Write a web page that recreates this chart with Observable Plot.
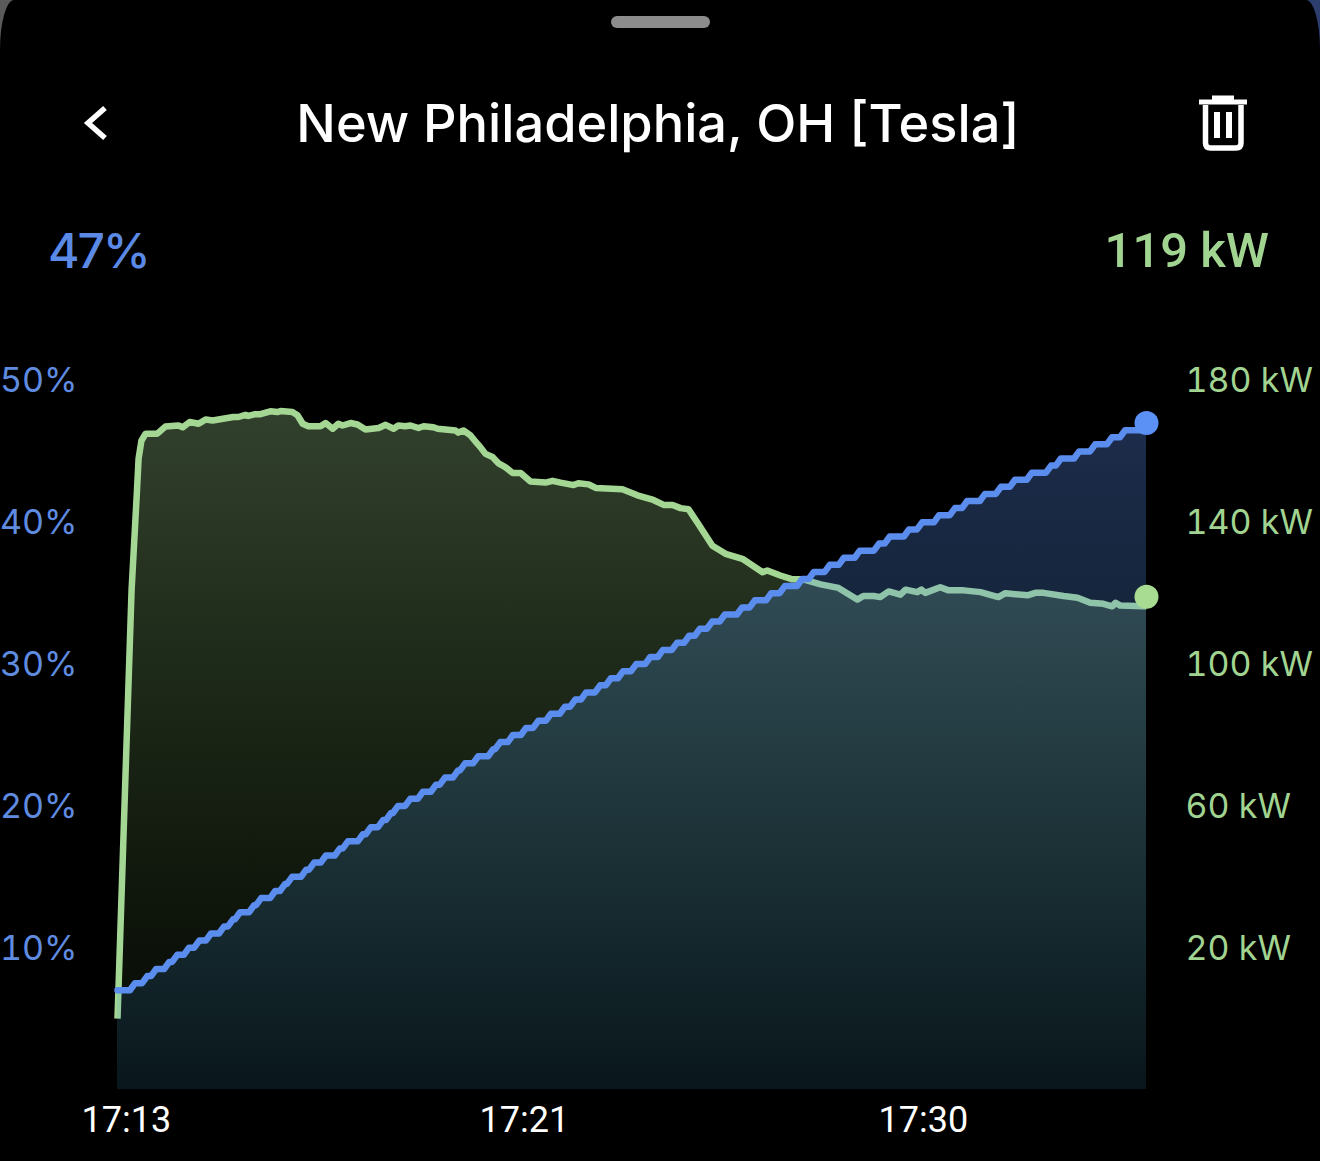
<!DOCTYPE html>
<html>
<head>
<meta charset="utf-8">
<script src="https://cdn.jsdelivr.net/npm/d3@7"></script>
<script src="https://cdn.jsdelivr.net/npm/@observablehq/plot@0.6"></script>
<style>
html,body{margin:0;padding:0;width:1320px;height:1161px;overflow:hidden;background:linear-gradient(to right,#5a5a5a 0 50%,#2c3d6e 50% 100%);font-family:Inter,sans-serif}
#header{position:relative;width:1320px;height:340px;background:#000;border-radius:14px 14px 0 0/50px 50px 0 0}
#pill{position:absolute;left:611px;top:16px;width:99px;height:12px;border-radius:6px;background:#8c8c8c}
#title{position:absolute;left:0;width:1316px;top:92px;text-align:center;color:#fff;font-size:52.3px;font-weight:500;line-height:62px;white-space:nowrap}
.big{position:absolute;top:222px;font-size:48px;line-height:58px;font-weight:500;white-space:nowrap}
#soc{left:48px;color:#5b8ae6;letter-spacing:-2px}
#pow{right:51px;color:#a2d491;font-family:Roboto,sans-serif;font-size:49px;top:222px}
#icons{position:absolute;left:0;top:0}
#chart{width:1320px;height:821px;background:#000}
svg{display:block}
</style>
</head>
<body>
<div id="header">
  <div id="pill"></div>
  <svg id="icons" width="1320" height="200" fill="none" stroke="#fff">
    <polyline points="105,108 88,123 105,138" stroke-width="5.5"/>
    <path d="M1199,102H1247M1212,98H1234" stroke-width="5"/>
    <path d="M1205.5,105V143Q1205.5,148 1210.5,148H1236Q1241,148 1241,143V105" stroke-width="5.5"/>
    <path d="M1217,112V138M1229,112V138" stroke-width="6"/>
  </svg>
  <div id="title">New Philadelphia, OH [Tesla]</div>
  <div id="soc" class="big">47%</div>
  <div id="pow" class="big">119 kW</div>
</div>
<div id="chart"></div>
<script>
// Minutes since the start of the session at which the state of charge ticks up
const socMinutes = [0.32,0.58,0.77,1.05,1.22,1.47,1.69,1.94,2.22,2.41,2.56,2.86,3.01,3.31,3.52,3.67,3.97,4.14,4.39,4.69,4.86,5.18,5.35,5.61,5.78,
  5.93,6.19,6.46,6.74,6.93,7.21,7.36,7.64,7.96,8.11,8.38,8.66,8.92,9.19,9.49,9.71,9.94,10.24,10.47,10.73,11.01,11.31,11.58,11.88,
  12.14,12.37,12.63,12.90,13.27,13.54,13.89,14.18,14.55,14.80,15.14,15.44,15.78,16.19,16.42,16.83,17.11,17.47,17.81,18.07,18.45,18.79,19.09,19.45,19.86,20.07,20.46,20.80,21.16,21.44];
const socPercent = [7.5,8,8.5,9,9.5,10,10.5,11,11.5,12,12.5,13,13.5,14,14.5,15,15.5,16,16.5,17,17.5,18,18.5,19,19.5,
  20,20.5,21,21.5,22,22.5,23,23.5,24,24.5,25,25.5,26,26.5,27,27.5,28,28.5,29,29.5,30,30.5,31,31.5,
  32,32.5,33,33.5,34,34.5,35,35.5,36,36.5,37,37.5,38,38.5,39,39.5,40,40.5,41,41.5,42,42.5,43,43.5,44,44.5,45,45.5,46,46.5];
const socStart = 7;
// Charging power samples
const powerMinutes = [0,0.30,0.41,0.45,0.51,0.60,0.85,1.02,1.30,1.39,1.54,1.73,1.88,2.03,2.47,2.58,2.73,2.79,2.94,3.05,3.26,3.41,3.48,3.73,3.84,3.95,4.07,4.33,4.44,4.59,4.71,4.80,4.97,5.12,5.29,5.57,5.72,5.89,5.99,6.14,6.25,6.42,6.53,6.74,6.83,7.21,7.27,7.38,7.53,7.68,7.74,7.85,8.00,8.13,8.28,8.43,8.60,8.81,9.13,9.28,9.45,9.73,9.83,10.05,10.20,10.77,11.09,11.43,11.65,11.84,12.01,12.18,12.39,12.69,12.97,13.33,13.76,13.86,14.14,14.40,14.63,15.00,15.38,15.78,15.91,16.13,16.27,16.45,16.70,16.81,17.06,17.15,17.23,17.55,17.73,18.05,18.41,18.79,18.94,19.41,19.58,19.75,20.18,20.48,20.75,21.03,21.22,21.29,21.39,21.88,21.95];
const powerKw = [0,120.8,147.6,158,163,165,165,167,167.3,166.8,168.3,167.8,169,168.7,169.7,169.7,170.3,170,170.5,170.5,171.3,171.1,171.4,171.1,170.2,167.8,167.1,167.1,168,166.4,167.8,167.3,168,167.6,166.2,166.6,167.5,166.4,167.3,167.1,167.3,166.6,167.1,166.8,166.4,165.9,165.3,165.9,164.5,162.1,161.2,159.3,158.4,156.6,155.5,153.9,153.9,151.5,151.2,151.7,151.2,150.5,151,150.7,149.7,149.3,147.6,146.3,144.9,144.9,144,143.7,139.5,133.4,131.1,129.7,125.9,126.4,125,123.9,123.9,122.5,121.5,118.2,119.2,119.2,118.9,120.5,119.6,121,120.3,121,120.1,121.7,120.8,120.8,120.3,118.9,120,119.4,120.1,120.1,119.2,118.7,117.3,117,116.3,117.3,116.5,116.3,116.3];
// Tick labels and latest readings
const timeTicks = [0.19,8.68,17.19];
const timeLabels = ["17:13","17:21","17:30"];
const percentTicks = [10,20,30,40,50];
const powerTicks = [20,60,100,140,180];
const lastMinute = 21.95, lastSoc = 47, lastKw = 119;

const BLUE = "#5b8def", GREEN = "#a5d794";
const kwToAxis = k => k / 4 + 5;            // right axis: 20 kW sits on 10 %, 180 kW on 50 %
const riser = 0.055;
const soc = [{t: 0, v: socStart}];
socMinutes.forEach((t, i) => {
  soc.push({t: t - riser, v: i ? socPercent[i - 1] : socStart});
  soc.push({t: t + riser, v: socPercent[i]});
});
soc.push({t: lastMinute, v: socPercent[socPercent.length - 1]});
const power = powerMinutes.map((t, i) => ({t, v: kwToAxis(powerKw[i])}));

const gradients = () => {
  const g = document.createElementNS("http://www.w3.org/2000/svg", "defs");
  g.innerHTML = `
  <linearGradient id="gGreen" x1="0" y1="0" x2="0" y2="1">
    <stop offset="0" stop-color="${GREEN}" stop-opacity="0.30"/>
    <stop offset="1" stop-color="#86d060" stop-opacity="0.03"/>
  </linearGradient>
  <linearGradient id="gBlue" x1="0" y1="0" x2="0" y2="1">
    <stop offset="0" stop-color="${BLUE}" stop-opacity="0.31"/>
    <stop offset="0.45" stop-color="#4a90e0" stop-opacity="0.23"/>
    <stop offset="1" stop-color="#2f8fd8" stop-opacity="0.12"/>
  </linearGradient>`;
  return g;
};

const chart = Plot.plot({
  width: 1320, height: 821,
  marginTop: 40, marginBottom: 72, marginLeft: 117, marginRight: 174,
  style: {background: "#000", fontFamily: "Inter, sans-serif", overflow: "visible"},
  x: {domain: [0, lastMinute]},
  y: {domain: [0, 50]},
  marks: [
    gradients,
    Plot.areaY(power, {x: "t", y1: 0, y2: "v", fill: "url(#gGreen)", curve: "linear"}),
    Plot.line(power, {x: "t", y: "v", stroke: GREEN, strokeWidth: 6.5, strokeLinecap: "butt"}),
    Plot.areaY(soc, {x: "t", y1: 0, y2: "v", fill: "url(#gBlue)", curve: "linear"}),
    Plot.line(soc, {x: "t", y: "v", stroke: BLUE, strokeWidth: 6.5}),
    Plot.dot([{t: lastMinute, v: kwToAxis(lastKw)}], {x: "t", y: "v", r: 12, fill: "#a8dc92"}),
    Plot.dot([{t: lastMinute, v: lastSoc}], {x: "t", y: "v", r: 12, fill: "#5b90f5"}),
    Plot.axisY({anchor: "left", ticks: percentTicks, tickSize: 0, tickPadding: 40, fontSize: 34, dy: 1,
      fill: "#5f8ce0", label: null, tickFormat: d => d + "%"}),
    Plot.axisY({anchor: "right", ticks: powerTicks.map(kwToAxis), tickSize: 0, tickPadding: 39, fontSize: 34, dy: 1,
      fill: "#a2d491", label: null, tickFormat: d => powerTicks[powerTicks.map(kwToAxis).indexOf(d)] + " kW"}),
    Plot.axisX({ticks: timeTicks, tickSize: 0, tickPadding: 17, fontSize: 36, fontFamily: "Roboto, sans-serif", fill: "#fff", label: null,
      tickFormat: d => timeLabels[timeTicks.indexOf(d)]})
  ]
});
document.getElementById("chart").appendChild(chart);
</script>
</body>
</html>
